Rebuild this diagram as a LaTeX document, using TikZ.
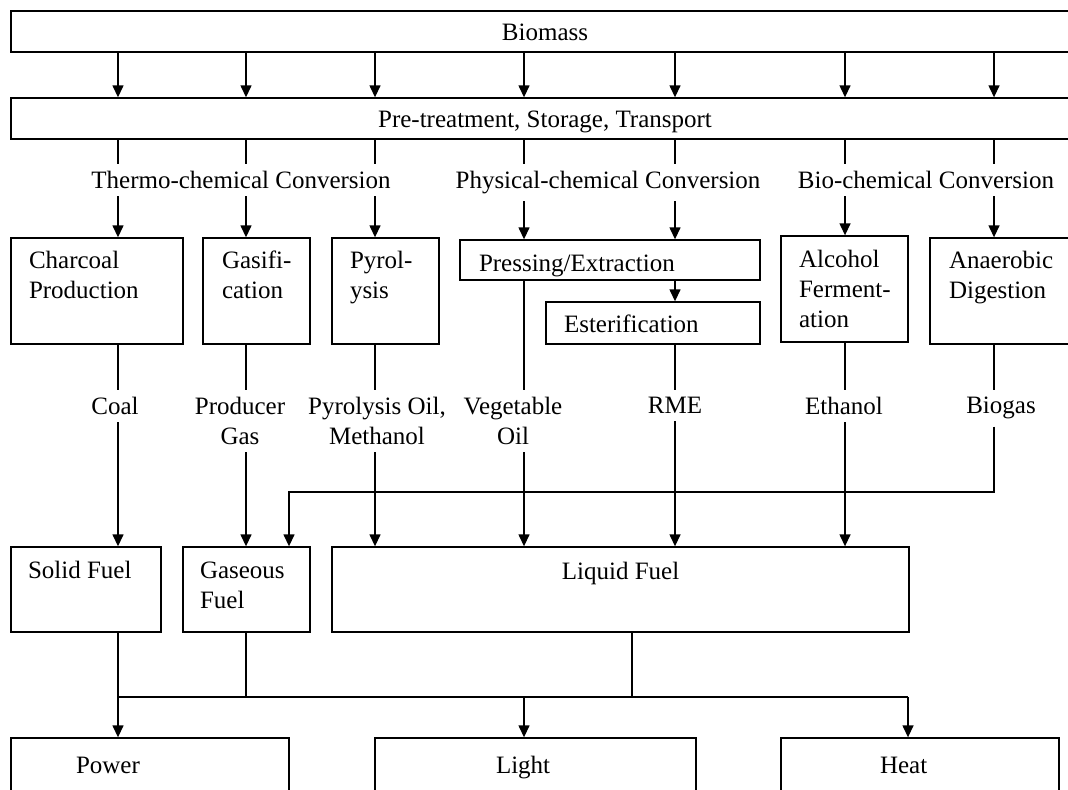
\documentclass[tikz,border=0pt]{standalone}
\usepackage{fontspec}
\setmainfont{Liberation Serif}
\usetikzlibrary{arrows.meta,fit}

\begin{document}
\begin{tikzpicture}[x=0.5pt,y=-0.5pt,
	font=\fontsize{12.5}{15}\selectfont,
	line width=0.7pt,
	box/.style={draw, rectangle, inner sep=0pt},
	txt/.style={anchor=north west, inner sep=0pt, align=left},
	lbl/.style={anchor=north, align=center},
	arr/.style={-{Triangle[length=6pt,width=5.5pt]}}]
	
	\useasboundingbox (0,0) rectangle (1068,789);
	\clip (0,0) rectangle (1068,789);
	
	\coordinate (c1) at (118,0);
	\coordinate (c2) at (246,0);
	\coordinate (c3) at (375,0);
	\coordinate (c4) at (524,0);
	\coordinate (c5) at (675,0);
	\coordinate (c6) at (845,0);
	\coordinate (c7) at (994,0);
	
	\node[box, fit={(11,11) (1079,52)}] (bio) {};
	\node[box, fit={(11,98) (1079,139)}] (pre) {};
	\node[anchor=base, inner sep=0pt] (biotxt) at (545,40) {Biomass};
	\node[anchor=base, inner sep=0pt] (pretxt) at (545,127) {Pre-treatment, Storage, Transport};
	
	\foreach \c in {c1,c2,c3,c4,c5,c6,c7}
		\draw[arr] (bio.south -| \c) -- (pre.north -| \c);
	
	\node[lbl] (thermo) at (241,164) {Thermo-chemical Conversion};
	\node[lbl] (phys) at (608,164) {Physical-chemical Conversion};
	\node[lbl] (biochem) at (926,164) {Bio-chemical Conversion};
	
	\node[box, fit={(11,238) (183,344)}] (charcoal) {};
	\node[box, fit={(203,238) (310,344)}] (gasif) {};
	\node[box, fit={(332,238) (439,344)}] (pyrol) {};
	\node[box, fit={(460,240) (760,280)}] (press) {};
	\node[box, fit={(546,302) (760,344)}] (ester) {};
	\node[box, fit={(781,236) (908,342)}] (alcohol) {};
	\node[box, fit={(930,238) (1079,344)}] (anaer) {};
	
	\node[txt] (charcoaltxt) at ([shift={(18,13)}]charcoal.north west) {Charcoal\\Production};
	\node[txt] (gasiftxt) at ([shift={(19,13)}]gasif.north west) {Gasifi-\\cation};
	\node[txt] (pyroltxt) at ([shift={(18,13)}]pyrol.north west) {Pyrol-\\ysis};
	\node[txt] (presstxt) at ([shift={(19,15)}]press.north west) {Pressing/Extraction};
	\node[txt] (estertxt) at ([shift={(18,13)}]ester.north west) {Esterification};
	\node[txt] (alcoholtxt) at ([shift={(18,14)}]alcohol.north west) {Alcohol\\Ferment-\\ation};
	\node[txt] (anaertxt) at ([shift={(19,13)}]anaer.north west) {Anaerobic\\Digestion};
	
	\foreach \c/\g/\b in {c1/thermo/charcoal,c2/thermo/gasif,c3/thermo/pyrol,c4/phys/press,c5/phys/press,c6/biochem/alcohol,c7/biochem/anaer}{
		\draw (pre.south -| \c) -- (\g.north -| \c);
		\draw[arr] (\g.south -| \c) -- (\b.north -| \c);
	}
	\draw[arr] (press.south -| c5) -- (ester.north -| c5);
	
	\node[lbl] (coal) at (115,390) {Coal};
	\node[lbl] (prodgas) at (240,390) {Producer\\Gas};
	\node[lbl] (pyroil) at (377,390) {Pyrolysis Oil,\\Methanol};
	\node[lbl] (vegoil) at (513,390) {Vegetable\\Oil};
	\node[lbl] (rme) at (675,390) {RME};
	\node[lbl] (ethanol) at (844,390) {Ethanol};
	\node[lbl] (biogas) at (1001,390) {Biogas};
	
	\draw (charcoal.south -| c1) -- (coal.north -| c1);
	\draw (gasif.south -| c2) -- (prodgas.north -| c2);
	\draw (pyrol.south -| c3) -- (pyroil.north -| c3);
	\draw (press.south -| c4) -- (vegoil.north -| c4);
	\draw (ester.south -| c5) -- (rme.north -| c5);
	\draw (alcohol.south -| c6) -- (ethanol.north -| c6);
	\draw (anaer.south -| c7) -- (biogas.north -| c7);
	
	\node[box, fit={(11,547) (161,632)}] (solid) {};
	\node[box, fit={(183,547) (310,632)}] (gaseous) {};
	\node[box, fit={(332,547) (909,632)}] (liquid) {};
	
	\node[txt] (solidtxt) at ([shift={(17,14)}]solid.north west) {Solid Fuel};
	\node[txt] (gaseoustxt) at ([shift={(17,15)}]gaseous.north west) {Gaseous\\Fuel};
	\node[anchor=north, inner sep=0pt] (liquidtxt) at ([shift={(0,15)}]liquid.north) {Liquid Fuel};
	
	\coordinate (jb) at (289,492);
	\draw[arr] (coal.south -| c1) -- (solid.north -| c1);
	\draw[arr] (prodgas.south -| c2) -- (gaseous.north -| c2);
	\draw[arr] (biogas.south -| c7) |- (jb) -- (jb |- gaseous.north);
	\draw[arr] (pyroil.south -| c3) -- (liquid.north -| c3);
	\draw[arr] (vegoil.south -| c4) -- (liquid.north -| c4);
	\draw[arr] (rme.south -| c5) -- (liquid.north -| c5);
	\draw[arr] (ethanol.south -| c6) -- (liquid.north -| c6);
	
	\node[box, fit={(11,738) (289,830)}] (power) {};
	\node[box, fit={(375,738) (696,830)}] (light) {};
	\node[box, fit={(781,738) (1059,830)}] (heat) {};
	
	\node[anchor=base west, inner sep=0pt] (powertxt) at ([shift={(65,36)}]power.north west) {Power};
	\node[anchor=base west, inner sep=0pt] (lighttxt) at ([shift={(121,36)}]light.north west) {Light};
	\node[anchor=base west, inner sep=0pt] (heattxt) at ([shift={(99,36)}]heat.north west) {Heat};
	
	\coordinate (bl) at (118,697);
	\coordinate (br) at (908,697);
	\coordinate (lq) at (632,0);
	
	\draw[arr] (solid.south -| c1) -- (power.north -| c1);
	\draw (gaseous.south -| c2) -- (bl -| c2);
	\draw (liquid.south -| lq) -- (bl -| lq);
	\draw (bl) -- (br);
	\draw[arr] (bl -| c4) -- (light.north -| c4);
	\draw[arr] (br) -- (heat.north -| br);
\end{tikzpicture}
\end{document}
